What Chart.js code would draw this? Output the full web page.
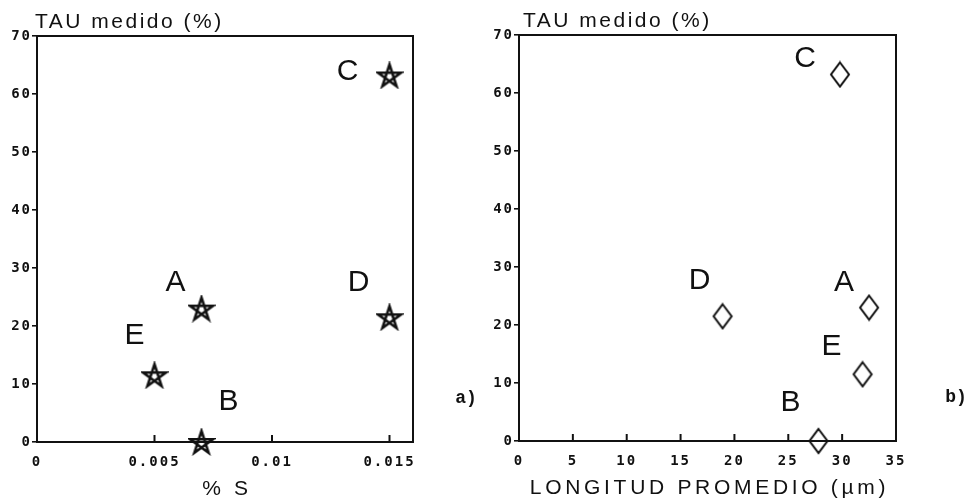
<!DOCTYPE html>
<html>
<head>
<meta charset="utf-8">
<script src="https://cdn.jsdelivr.net/npm/chart.js@4.4.1/dist/chart.umd.min.js"></script>
<style>
  body { margin: 0; background: #fff; }
  #wrap { position: relative; width: 971px; height: 503px; }
  canvas { position: absolute; top: 0; }
  #chartA { left: 0; }
  #chartB { left: 485px; }
</style>
</head>
<body>
<div id="wrap">
  <canvas id="chartA" width="485" height="503"></canvas>
  <canvas id="chartB" width="486" height="503"></canvas>
</div>
<script>
const samples = ["A", "B", "C", "D", "E"];
const tau = [23, 0, 63.2, 21.5, 11.5];
const sulfur = [0.007, 0.007, 0.015, 0.015, 0.005];
const longitud = [32.5, 27.8, 29.8, 18.9, 31.9];
const tauTicks = ["0", "10", "20", "30", "40", "50", "60", "70"];
const sulfurTicks = ["0", "0.005", "0.01", "0.015"];
const longitudTicks = ["0", "5", "10", "15", "20", "25", "30", "35"];

const ink = "#111";

// where each letter sits relative to its marker (px)
const offsetsA = [[-26, -26], [27, -40], [-42, -4], [-31, -35], [-20, -40]];
const offsetsB = [[-25, -25], [-28, -38], [-35, -16], [-23, -36], [-31, -28]];

function makeStar() {
  const c = document.createElement("canvas");
  c.width = 28; c.height = 28;
  const g = c.getContext("2d");
  g.strokeStyle = ink; g.lineWidth = 2.6;
  g.beginPath();
  for (let i = 0; i <= 5; i++) {
    const a = -Math.PI / 2 + (i * 2 % 5) * 2 * Math.PI / 5;
    const x = 14 + 12 * Math.cos(a), y = 15 + 12 * Math.sin(a);
    if (i) g.lineTo(x, y); else g.moveTo(x, y);
  }
  g.closePath();
  g.stroke();
  return c;
}

function makeDiamond() {
  const c = document.createElement("canvas");
  c.width = 22; c.height = 28;
  const g = c.getContext("2d");
  g.strokeStyle = ink; g.lineWidth = 2;
  g.beginPath();
  g.moveTo(11, 2); g.lineTo(20, 14); g.lineTo(11, 26); g.lineTo(2, 14);
  g.closePath();
  g.stroke();
  return c;
}

const decor = {
  id: "decor",
  beforeDraw(chart) { chart.ctx.letterSpacing = "2px"; },
  afterDatasetsDraw(chart, args, o) {
    const { ctx, chartArea: a } = chart;
    const x = chart.scales.x;
    const meta = chart.getDatasetMeta(0);
    ctx.save();
    ctx.strokeStyle = ink;
    ctx.lineWidth = 2;
    ctx.strokeRect(a.left, a.top, a.right - a.left, a.bottom - a.top);
    // x ticks point inwards
    x.ticks.forEach(t => {
      const px = x.getPixelForValue(t.value);
      ctx.beginPath();
      ctx.moveTo(px, a.bottom);
      ctx.lineTo(px, a.bottom - 7);
      ctx.stroke();
    });

    ctx.fillStyle = ink;
    ctx.textBaseline = "middle";
    ctx.font = "21px 'Liberation Sans', Arial, sans-serif";
    ctx.letterSpacing = "2.5px";
    ctx.textAlign = "left";
    ctx.fillText("TAU medido (%)", a.left + o.yTitleDx, a.top - 14);

    ctx.letterSpacing = "3.7px";
    ctx.textAlign = "center";
    ctx.fillText(o.xTitle, (a.left + a.right) / 2 + 2, a.bottom + 47);

    ctx.letterSpacing = "0px";
    ctx.font = "bold 18px 'Liberation Mono', monospace";
    ctx.fillText(o.panel, a.right + o.panelDx, a.bottom - 44);

    ctx.font = "30px 'Liberation Sans', Arial, sans-serif";
    meta.data.forEach((pt, i) => {
      ctx.fillText(samples[i], pt.x + o.offsets[i][0], pt.y + o.offsets[i][1]);
    });
    ctx.restore();
  }
};

const tickFont = { family: "'DejaVu Sans Mono', monospace", size: 14, weight: "bold" };

function buildChart(id, xs, marker, xScale, extra) {
  return new Chart(document.getElementById(id), {
    type: "scatter",
    data: {
      datasets: [{
        data: xs.map((v, i) => ({ x: v, y: tau[i] })),
        pointStyle: marker,
        clip: false
      }]
    },
    options: {
      responsive: false,
      animation: false,
      layout: { padding: extra.padding },
      plugins: {
        legend: { display: false },
        tooltip: { enabled: false },
        decor: extra.decor
      },
      scales: {
        x: Object.assign({
          type: "linear",
          bounds: "data",
          afterFit: s => { s.height = extra.xHeight; },
          grid: { display: false, drawTicks: false },
          border: { display: false }
        }, xScale),
        y: {
          min: 0,
          max: 70,
          afterFit: s => { s.width = extra.yWidth; },
          ticks: {
            stepSize: 10,
            padding: 0,
            color: ink,
            font: tickFont,
            callback: (v, i) => tauTicks[i]
          },
          grid: { drawOnChartArea: false, tickLength: 5, color: ink, lineWidth: 1.6 },
          border: { display: false }
        }
      }
    },
    plugins: [decor]
  });
}

buildChart("chartA", sulfur, makeStar(), {
  min: 0, max: 0.016,
  ticks: {
    stepSize: 0.005, includeBounds: false, padding: 12, maxRotation: 0, autoSkip: false,
    color: ink, font: tickFont,
    callback: (v, i) => sulfurTicks[i]
  }
}, {
  padding: { left: 0, right: 72, top: 36, bottom: 0 },
  xHeight: 61, yWidth: 37,
  decor: { xTitle: "% S", panel: "a)", panelDx: 53, yTitleDx: -2, offsets: offsetsA }
});

buildChart("chartB", longitud, makeDiamond(), {
  min: 0, max: 35,
  ticks: {
    stepSize: 5, padding: 12, maxRotation: 0, autoSkip: false,
    color: ink, font: tickFont,
    callback: (v, i) => longitudTicks[i]
  }
}, {
  padding: { left: 0, right: 75, top: 35, bottom: 0 },
  xHeight: 62, yWidth: 34,
  decor: { xTitle: "LONGITUD PROMEDIO (\u00b5m)", panel: "b)", panelDx: 60, yTitleDx: 4, offsets: offsetsB }
});
</script>
</body>
</html>
